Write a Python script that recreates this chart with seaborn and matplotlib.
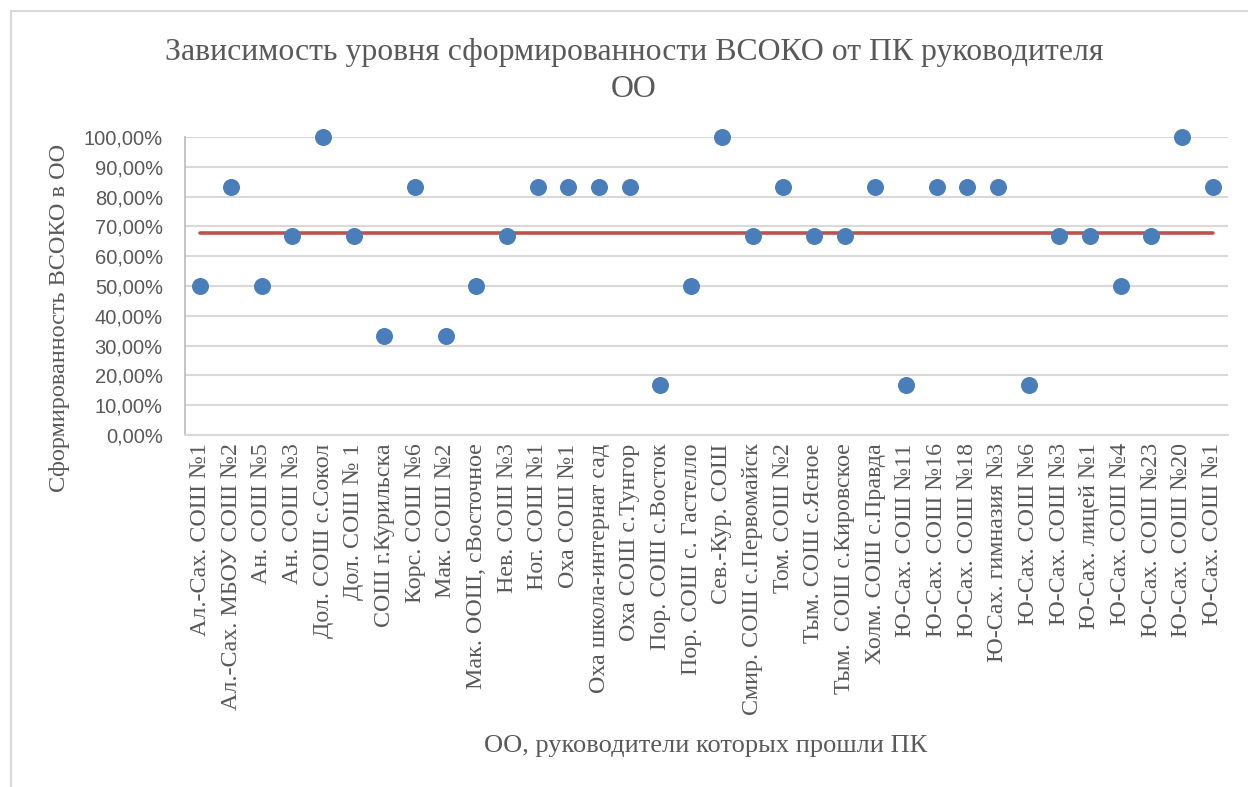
import matplotlib
matplotlib.use("Agg")
import matplotlib.pyplot as plt
import seaborn as sns
import pandas as pd
import numpy as np
from matplotlib.ticker import FuncFormatter, MultipleLocator
from matplotlib.patches import Rectangle

schools = [
    "Ал.-Сах. СОШ №1", "Ал.-Сах. МБОУ СОШ №2", "Ан. СОШ №5", "Ан. СОШ №3",
    "Дол. СОШ с.Сокол", "Дол. СОШ № 1", "СОШ г.Курильска", "Корс. СОШ №6",
    "Мак. СОШ №2", "Мак. ООШ, сВосточное", "Нев. СОШ №3", "Ног. СОШ №1",
    "Оха СОШ №1", "Оха школа-интернат сад", "Оха СОШ с.Тунгор", "Пор. СОШ с.Восток",
    "Пор. СОШ с. Гастелло", "Сев.-Кур. СОШ", "Смир. СОШ с.Первомайск", "Том. СОШ №2",
    "Тым. СОШ с.Ясное", "Тым.  СОШ с.Кировское", "Холм. СОШ с.Правда", "Ю-Сах. СОШ №11",
    "Ю-Сах. СОШ №16", "Ю-Сах. СОШ №18", "Ю-Сах. гимназия №3", "Ю-Сах. СОШ №6",
    "Ю-Сах. СОШ №3", "Ю-Сах. лицей №1", "Ю-Сах. СОШ №4", "Ю-Сах. СОШ №23",
    "Ю-Сах. СОШ №20", "Ю-Сах. СОШ №1",
]
level = [
    0.50, 0.8333, 0.50, 0.6667, 1.00, 0.6667, 0.3333, 0.8333,
    0.3333, 0.50, 0.6667, 0.8333, 0.8333, 0.8333, 0.8333, 0.1667,
    0.50, 1.00, 0.6667, 0.8333, 0.6667, 0.6667, 0.8333, 0.1667,
    0.8333, 0.8333, 0.8333, 0.1667, 0.6667, 0.6667, 0.50, 0.6667,
    1.00, 0.8333,
]
avg_level = 0.677

df = pd.DataFrame({"school": schools, "level": level, "avg": [avg_level] * len(schools)})
df["pos"] = np.arange(len(df))

sns.set_theme(style="white")
serif = ["Liberation Serif", "DejaVu Serif"]
sans = ["Liberation Sans", "DejaVu Sans"]

fig = plt.figure(figsize=(12.48, 7.87), dpi=100)
ax = fig.add_axes([185 / 1248, 1 - 435 / 787, (1228 - 185) / 1248, (435 - 137) / 787])

# document frame
fig.patches.append(Rectangle((11 / 1248, -0.1), 1.2, 1 - 11 / 787 + 0.1, transform=fig.transFigure,
                             fill=False, edgecolor="#D9D9D9", linewidth=1.5))

sns.lineplot(data=df, x="pos", y="avg", ax=ax, color="#C0504D", linewidth=2.6, zorder=2)
sns.scatterplot(data=df, x="pos", y="level", ax=ax, color="#4A7EBB", s=150,
                edgecolor="#4A7EBB", linewidth=0, zorder=3, clip_on=False)

ax.set_xlim(-0.5, len(df) - 0.5)
ax.set_ylim(0, 1.0)
ax.yaxis.set_major_locator(MultipleLocator(0.1))
ax.yaxis.set_major_formatter(FuncFormatter(lambda v, p: f"{v*100:.2f}%".replace(".", ",")))
ax.grid(axis="y", color="#D9D9D9", linewidth=1.5)
ax.set_axisbelow(True)
for s in ["top", "right"]:
    ax.spines[s].set_visible(False)
ax.spines["left"].set_color("#BFBFBF")
ax.spines["bottom"].set_color("#D9D9D9")
ax.spines["left"].set_linewidth(1.3)
ax.spines["bottom"].set_linewidth(1.5)

ax.set_xticks(df["pos"])
ax.set_xticklabels(df["school"], rotation=90, family=serif, fontsize=17.3, color="#595959")
ax.tick_params(axis="x", length=0, pad=6)
ax.tick_params(axis="y", length=0, pad=16, labelsize=14.5, labelcolor="#595959")
for lbl in ax.get_yticklabels():
    lbl.set_family(sans)

ax.set_xlabel("")
ax.set_ylabel("")
fig.text(60 / 1248, 1 - 318 / 787, "Сформированность ВСОКО в ОО", rotation=90,
         ha="center", va="center", family=serif, fontsize=17.5, color="#595959")
fig.text(706 / 1248, 1 - 746 / 787, "ОО, руководители которых прошли ПК",
         ha="center", va="center", family=serif, fontsize=19, color="#595959")
fig.text(634 / 1248, 1 - 71 / 787, "Зависимость уровня сформированности ВСОКО от ПК руководителя\nОО",
         ha="center", va="center", family=serif, fontsize=22.9, color="#595959", linespacing=1.4)

fig.savefig("out.png", dpi=100)
